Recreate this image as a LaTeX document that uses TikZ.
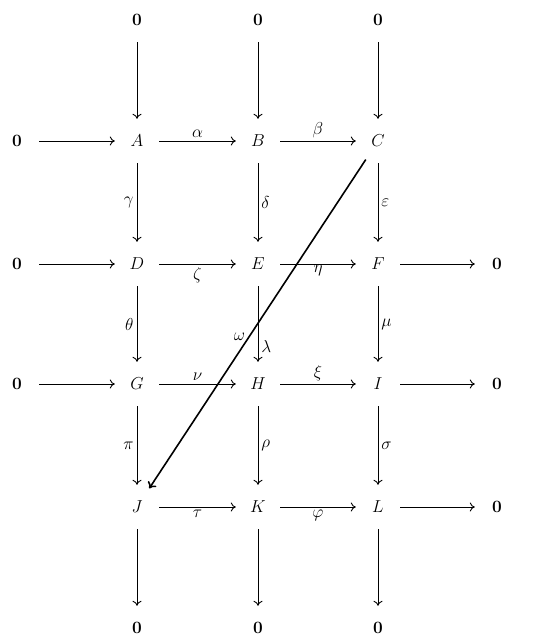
\documentclass[tikz,border=0pt]{standalone}
\usetikzlibrary{arrows.meta}
\begin{document}
\begin{tikzpicture}[x=1pt,y=-1pt,
  obj/.style={circle,minimum size=44pt,inner sep=0pt,font=\fontsize{18}{22}\selectfont},
  map/.style={-{To[length=5pt,width=9pt]},line width=0.9pt},
  lab/.style={font=\fontsize{17}{20}\selectfont,inner sep=3pt},
  diag/.style={-{To[length=6pt,width=10pt]},line width=1.6pt}]
\useasboundingbox (0,0) rectangle (540,641);
% row 0
\node[obj] (t1) at (137,20) {$\mathbf{0}$};
\node[obj] (t2) at (258,20) {$\mathbf{0}$};
\node[obj] (t3) at (378,20) {$\mathbf{0}$};
% row 1
\node[obj] (l1) at (17,141) {$\mathbf{0}$};
\node[obj] (A) at (137,141) {$A$};
\node[obj] (B) at (258,141) {$B$};
\node[obj] (C) at (378,141) {$C$};
% row 2
\node[obj] (l2) at (17,264) {$\mathbf{0}$};
\node[obj] (D) at (137,264) {$D$};
\node[obj] (E) at (258,264) {$E$};
\node[obj] (F) at (378,264) {$F$};
\node[obj] (r2) at (497,264) {$\mathbf{0}$};
% row 3
\node[obj] (l3) at (17,384) {$\mathbf{0}$};
\node[obj] (G) at (137,384) {$G$};
\node[obj] (H) at (258,384) {$H$};
\node[obj] (I) at (378,384) {$I$};
\node[obj] (r3) at (497,384) {$\mathbf{0}$};
% row 4
\node[obj] (J) at (137,507) {$J$};
\node[obj] (K) at (258,507) {$K$};
\node[obj] (L) at (378,507) {$L$};
\node[obj] (r4) at (497,507) {$\mathbf{0}$};
% row 5
\node[obj] (b1) at (137,628) {$\mathbf{0}$};
\node[obj] (b2) at (258,628) {$\mathbf{0}$};
\node[obj] (b3) at (378,628) {$\mathbf{0}$};
% vertical from top zeros
\draw[map] (t1) -- (A);
\draw[map] (t2) -- (B);
\draw[map] (t3) -- (C);
% horizontal row 1
\draw[map] (l1) -- (A);
\draw[map] (A) -- node[lab,above] {$\alpha$} (B);
\draw[map] (B) -- node[lab,above] {$\beta$} (C);
% verticals row1->row2
\draw[map] (A) -- node[lab,left] {$\gamma$} (D);
\draw[map] (B) -- node[lab,right] {$\delta$} (E);
\draw[map] (C) -- node[lab,right] {$\varepsilon$} (F);
% horizontal row 2
\draw[map] (l2) -- (D);
\draw[map] (D) -- node[lab,below] {$\zeta$} (E);
\draw[map] (E) -- node[lab,below,inner sep=1pt] {$\eta$} (F);
\draw[map] (F) -- (r2);
% verticals row2->row3
\draw[map] (D) -- node[lab,left] {$\theta$} (G);
\draw[map] (E) -- node[lab,right,pos=0.8] {$\lambda$} (H);
\draw[map] (F) -- node[lab,right] {$\mu$} (I);
% horizontal row 3
\draw[map] (l3) -- (G);
\draw[map] (G) -- node[lab,above] {$\nu$} (H);
\draw[map] (H) -- node[lab,above] {$\xi$} (I);
\draw[map] (I) -- (r3);
% verticals row3->row4
\draw[map] (G) -- node[lab,left] {$\pi$} (J);
\draw[map] (H) -- node[lab,right] {$\rho$} (K);
\draw[map] (I) -- node[lab,right] {$\sigma$} (L);
% horizontal row 4
\draw[map] (J) -- node[lab,below] {$\tau$} (K);
\draw[map] (K) -- node[lab,below] {$\varphi$} (L);
\draw[map] (L) -- (r4);
% bottom
\draw[map] (J) -- (b1);
\draw[map] (K) -- (b2);
\draw[map] (L) -- (b3);
% diagonal
\draw[diag] (C) -- node[lab,left,pos=0.54] {$\omega$} (J);
\end{tikzpicture}
\end{document}
